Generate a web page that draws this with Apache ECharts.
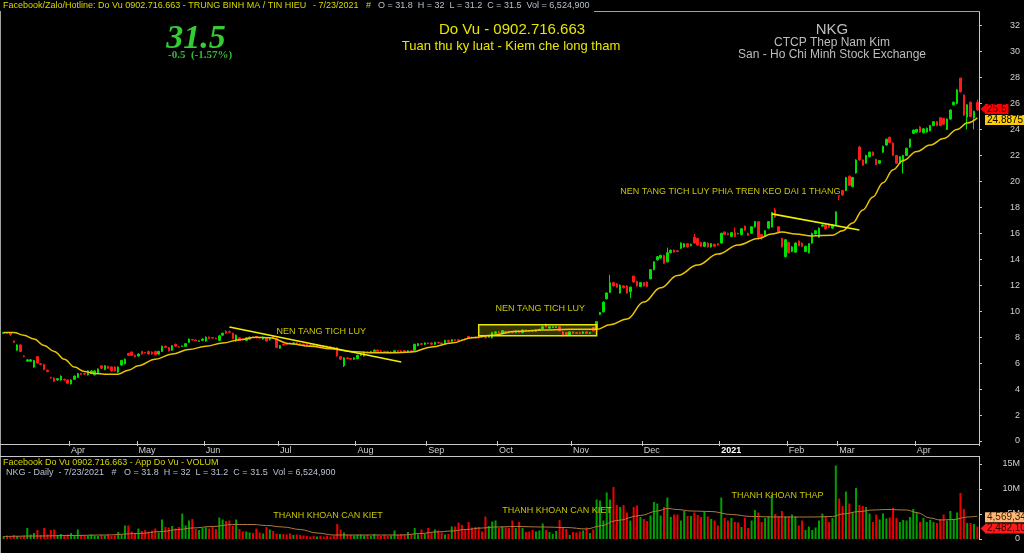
<!DOCTYPE html>
<html><head><meta charset="utf-8">
<script src="https://cdn.jsdelivr.net/npm/echarts@6/dist/echarts.min.js"></script>
<style>html,body{margin:0;padding:0;background:#000;overflow:hidden}#c{width:1024px;height:553px}</style>
</head><body><div id="c"></div>
<script>
// ---------- DATA ----------
const monthLabels = ['Apr','May','Jun','Jul','Aug','Sep','Oct','Nov','Dec','2021','Feb','Mar','Apr'];
const monthStart  = [20,40,60,82,105,126,147,169,190,213,233,248,271];

// [open, close, low, high]
const candles = [
[8.3,8.35,8.25,8.4],[8.35,8.3,8.25,8.4],[8.3,8.2,8.1,8.35],[7.7,7.6,7.55,7.75],[7.0,7.4,6.95,7.45],[7.4,6.9,6.85,7.45],[6.55,6.5,6.45,6.6],[6.15,6.25,6.1,6.3],[6.15,6.25,6.1,6.3],[5.7,6.2,5.65,6.25],
[6.5,6.0,5.95,6.55],[5.95,5.9,5.85,6.0],[5.9,5.5,5.45,5.95],[5.45,5.35,5.3,5.5],[4.9,4.85,4.8,4.95],[4.85,4.6,4.55,4.9],[4.7,4.8,4.65,4.85],[4.7,5.0,4.65,5.05],[4.75,4.7,4.65,4.8],[4.7,4.45,4.4,4.75],
[4.4,4.7,4.35,4.75],[4.75,5.0,4.7,5.05],[4.9,5.2,4.85,5.25],[5.2,5.15,5.1,5.25],[5.2,5.15,5.1,5.25],[5.1,5.4,5.05,5.45],[5.2,5.4,5.15,5.45],[5.1,5.4,5.05,5.45],[5.2,5.55,5.15,5.6],[5.8,5.6,5.55,5.85],
[5.5,5.8,5.45,5.85],[5.75,5.6,5.55,5.8],[5.7,5.4,5.35,5.75],[5.7,5.4,5.35,5.75],[5.3,5.7,5.25,5.75],[5.85,6.2,5.8,6.25],[5.95,6.3,5.9,6.35],[6.75,6.6,6.55,6.8],[6.85,6.6,6.55,6.9],[6.6,6.5,6.45,6.65],
[6.55,6.7,6.5,6.75],[6.9,6.7,6.65,6.95],[6.82,6.78,6.75,6.85],[6.9,6.7,6.65,6.95],[6.85,6.7,6.65,6.9],[6.9,6.65,6.6,6.95],[6.7,6.9,6.65,6.95],[6.9,7.3,6.85,7.35],[7.3,7.2,7.15,7.35],[7.2,6.95,6.9,7.25],
[7.0,7.35,6.95,7.4],[7.45,7.3,7.25,7.5],[7.27,7.23,7.2,7.3],[7.28,7.32,7.25,7.35],[7.3,7.5,7.25,7.55],[7.6,7.85,7.55,7.9],[7.82,7.78,7.75,7.85],[7.77,7.73,7.7,7.8],[7.68,7.72,7.65,7.75],[7.75,7.85,7.7,7.9],
[7.7,8.0,7.65,8.05],[8.0,7.9,7.85,8.05],[7.97,7.93,7.9,8.0],[7.92,7.88,7.85,7.95],[7.75,8.1,7.7,8.15],[8.15,8.3,8.1,8.35],[8.45,8.3,8.25,8.55],[8.42,8.38,8.3,8.5],[8.3,7.9,7.85,8.35],[7.7,8.15,7.65,8.2],
[7.95,7.75,7.7,8.0],[7.87,7.83,7.8,7.9],[7.75,7.95,7.7,8.0],[7.85,8.0,7.8,8.05],[8.02,7.98,7.95,8.05],[8.05,7.95,7.9,8.1],[7.97,7.93,7.9,8.0],[7.85,8.0,7.8,8.05],[7.95,7.7,7.65,8.0],[7.8,7.9,7.75,7.95],
[8.05,7.95,7.9,8.1],[7.9,7.2,7.15,7.95],[7.15,7.35,7.1,7.4],[7.45,7.4,7.35,7.5],[7.5,7.45,7.4,7.55],[7.55,7.5,7.45,7.6],[7.45,7.55,7.4,7.6],[7.55,7.45,7.4,7.6],[7.5,7.45,7.4,7.55],[7.45,7.4,7.35,7.5],
[7.45,7.4,7.35,7.5],[7.4,7.35,7.3,7.45],[7.4,7.3,7.25,7.45],[7.3,7.4,7.25,7.45],[7.35,7.3,7.25,7.4],[7.3,7.25,7.2,7.35],[7.3,7.2,7.15,7.35],[7.25,7.15,7.1,7.3],[7.2,7.1,7.05,7.25],[7.2,6.55,6.5,7.25],
[6.5,6.3,6.25,6.55],[5.8,6.4,5.7,6.45],[6.4,6.35,6.3,6.45],[6.35,6.3,6.25,6.4],[6.3,6.4,6.25,6.45],[6.35,6.6,6.3,6.65],[6.6,6.7,6.55,6.75],[6.55,6.85,6.5,6.9],[6.85,6.8,6.75,6.9],[6.8,6.9,6.75,6.95],
[6.9,7.0,6.85,7.05],[7.0,6.9,6.85,7.05],[6.95,6.9,6.85,7.0],[6.9,6.85,6.8,6.95],[6.9,6.8,6.75,6.95],[6.8,6.85,6.75,6.9],[6.85,6.95,6.8,7.0],[6.95,6.9,6.85,7.0],[6.95,6.9,6.85,7.0],[6.95,6.85,6.8,7.0],
[6.9,6.95,6.85,7.0],[6.95,6.9,6.85,7.0],[7.0,7.45,6.95,7.5],[7.35,7.5,7.3,7.55],[7.5,7.45,7.4,7.55],[7.45,7.55,7.4,7.6],[7.55,7.5,7.45,7.6],[7.55,7.45,7.4,7.6],[7.45,7.6,7.4,7.65],[7.6,7.55,7.5,7.65],
[7.55,7.5,7.45,7.6],[7.5,7.75,7.45,7.8],[7.75,7.65,7.6,7.8],[7.65,7.8,7.6,7.85],[7.8,7.75,7.7,7.85],[7.8,7.75,7.7,7.85],[7.8,7.75,7.7,7.85],[7.85,7.8,7.75,7.9],[8.05,7.95,7.9,8.1],[8.0,7.95,7.9,8.05],
[8.0,7.95,7.9,8.05],[8.0,7.95,7.9,8.05],[8.05,8.0,7.95,8.1],[8.05,7.95,7.9,8.1],[8.0,8.05,7.95,8.1],[7.95,8.35,7.9,8.4],[8.3,8.4,8.25,8.45],[8.4,8.35,8.3,8.45],[8.3,8.5,8.25,8.55],[8.45,8.4,8.35,8.5],
[8.45,8.35,8.3,8.5],[8.4,8.35,8.3,8.45],[8.35,8.45,8.3,8.5],[8.45,8.35,8.3,8.5],[8.35,8.55,8.3,8.6],[8.55,8.45,8.4,8.6],[8.5,8.45,8.4,8.55],[8.5,8.45,8.4,8.55],[8.45,8.55,8.4,8.6],[8.55,8.6,8.5,8.65],
[8.65,8.8,8.6,8.85],[9.0,8.8,8.75,9.05],[8.7,8.8,8.65,8.85],[8.75,8.8,8.7,8.85],[8.75,8.8,8.7,8.85],[8.8,8.5,8.45,8.85],[8.4,8.2,8.05,8.45],[8.35,8.2,8.15,8.4],[8.15,8.4,8.1,8.45],[8.4,8.3,8.25,8.45],
[8.35,8.3,8.25,8.4],[8.35,8.3,8.25,8.4],[8.3,8.4,8.25,8.45],[8.4,8.3,8.25,8.45],[8.3,8.35,8.25,8.4],[8.75,8.5,8.45,8.8],[8.6,9.2,8.55,9.25],[9.75,9.9,9.7,9.95],[9.95,10.7,9.9,10.75],[10.95,11.4,10.9,11.45],
[11.45,12.2,11.4,12.8],[12.2,11.95,11.9,12.25],[12.1,11.85,11.8,12.15],[11.4,12.0,11.35,12.05],[11.95,11.8,11.75,12.0],[11.95,11.4,11.35,12.0],[11.5,11.85,11.0,11.9],[12.7,12.25,12.2,12.75],[12.3,11.95,11.9,12.35],[11.9,12.2,11.85,12.25],
[12.2,11.95,11.9,12.25],[12.25,11.9,11.85,12.3],[12.5,13.2,12.45,13.25],[13.2,13.8,13.15,13.85],[13.95,14.2,13.9,14.25],[14.1,14.3,14.05,14.35],[14.3,13.7,13.65,14.35],[13.8,14.5,13.75,14.9],[14.5,14.7,14.45,14.75],[14.7,14.55,14.5,14.75],
[14.65,14.6,14.55,14.7],[14.85,15.25,14.8,15.3],[14.95,15.2,14.9,15.25],[15.2,14.95,14.9,15.25],[15.05,15.15,15.0,15.2],[15.7,15.25,15.2,15.95],[15.6,15.1,15.05,15.65],[15.3,15.0,14.95,15.35],[15.0,15.3,14.95,15.35],[15.25,14.95,14.9,15.3],
[14.95,15.2,14.9,15.25],[15.15,15.0,14.95,15.2],[15.2,15.1,15.05,15.25],[15.25,16.0,15.2,16.05],[16.1,15.9,15.85,16.15],[16.0,15.9,15.85,16.05],[15.75,16.05,15.7,16.1],[16.05,15.75,15.7,16.45],[16.0,15.95,15.9,16.05],[15.9,16.35,15.85,16.4],
[16.55,16.25,16.2,16.6],[16.0,15.85,15.8,16.05],[16.0,16.5,15.95,16.55],[16.5,16.9,16.45,16.95],[16.9,15.7,15.5,16.95],[15.9,15.7,15.5,15.95],[15.8,16.2,15.75,16.25],[16.4,16.9,16.35,16.95],[16.5,17.6,16.45,17.65],[17.8,17.25,17.2,17.95],
[16.5,16.1,16.05,16.55],[15.6,14.95,14.9,15.65],[14.2,15.5,14.15,15.55],[15.3,14.5,14.45,15.35],[14.6,14.95,14.55,15.0],[14.55,15.25,14.5,15.3],[15.4,15.05,15.0,15.45],[15.25,15.0,14.95,15.3],[14.6,15.0,14.55,15.05],[14.5,15.2,14.45,15.25],
[15.25,16.0,15.2,16.05],[15.95,16.2,15.9,16.25],[15.7,16.4,15.65,16.45],[16.55,16.65,16.5,16.7],[16.65,16.35,16.3,16.7],[16.7,16.45,16.4,16.75],[16.4,16.65,16.35,16.7],[16.65,17.65,16.6,17.7],[18.9,18.85,18.55,18.9],[19.3,18.95,18.9,19.35],
[19.3,20.3,19.25,20.35],[20.4,19.7,19.65,20.45],[19.6,20.3,19.55,20.35],[20.65,21.65,20.6,21.7],[22.65,21.65,21.6,22.75],[21.65,21.25,21.2,21.7],[21.4,22.0,21.35,22.05],[21.9,22.25,21.85,22.3],[22.25,22.0,21.95,22.3],[21.7,21.3,21.25,21.75],
[21.4,21.6,21.35,21.65],[22.25,22.7,22.2,22.75],[22.8,23.25,22.75,23.3],[23.4,23.0,22.95,23.45],[22.95,22.0,21.95,23.0],[22.0,21.4,21.35,22.05],[21.4,21.9,21.35,21.95],[21.5,22.0,20.6,22.05],[22.0,22.55,21.95,22.6],[22.65,23.25,22.6,23.3],
[23.7,23.95,23.65,24.0],[23.8,24.0,23.75,24.05],[24.2,23.8,23.75,24.25],[23.75,24.05,23.7,24.1],[23.8,24.1,23.75,24.15],[23.9,24.3,23.85,24.35],[24.3,24.6,24.25,24.65],[24.6,24.3,24.25,24.65],[24.9,24.3,24.25,24.95],[24.85,24.4,24.35,24.9],
[24.0,24.8,23.95,24.85],[24.8,25.5,24.75,25.55],[25.9,26.1,25.85,26.15],[26.0,27.05,25.95,27.1],[27.95,26.9,26.85,28.0],[26.65,25.1,25.05,26.7],[24.95,25.9,24.0,25.95],[26.1,25.0,24.95,26.15],[24.9,25.4,24.0,25.45],[26.1,25.5,25.45,26.3]
];

// volume in millions of shares
const volumes = [
0.6,0.7,0.5,0.8,0.6,0.5,0.7,2.2,0.9,1.2, 1.8,0.8,2.2,0.9,1.8,1.9,0.8,1.0,0.7,0.9,
1.2,0.8,1.9,0.8,0.7,0.6,0.9,0.7,0.6,0.8, 0.7,0.9,0.6,0.7,1.4,0.9,2.7,2.7,1.5,1.2,
2.1,1.6,1.8,1.5,1.7,2.1,1.3,3.9,2.4,2.3, 2.6,2.1,2.4,5.1,2.7,3.7,4.0,2.0,1.8,2.2,
2.3,2.1,2.5,2.0,4.3,3.9,3.6,3.7,2.6,3.9, 2.0,1.5,1.5,1.3,1.2,2.1,1.3,1.1,2.4,1.9,
1.6,1.1,1.0,1.0,0.9,1.1,0.8,0.9,0.8,0.7, 0.6,0.5,0.6,0.5,0.6,0.5,0.6,0.5,0.7,3.0,
1.9,1.3,0.9,0.8,0.7,0.8,0.9,0.7,0.8,0.6, 1.0,0.7,0.6,0.8,0.6,0.7,1.7,0.8,1.0,0.8,
1.4,0.9,2.2,0.9,1.9,1.0,2.2,1.4,1.9,1.7, 1.3,0.9,1.0,2.5,2.5,3.3,2.8,1.8,3.4,2.3,
2.4,2.4,1.5,4.5,2.6,3.5,3.7,2.2,2.5,2.3, 2.2,3.7,2.2,3.4,2.2,1.4,1.5,1.8,1.5,1.7,
3.1,1.8,1.4,1.0,1.6,3.8,2.2,2.0,0.8,1.4, 1.3,1.5,1.7,2.3,1.2,1.9,7.9,7.7,3.7,9.3,
7.9,10.4,6.8,6.4,6.8,5.3,3.7,6.4,6.7,4.4, 4.0,3.6,4.7,7.4,7.1,4.7,6.4,8.3,4.4,4.9,
4.9,3.7,5.6,4.6,4.6,5.3,4.8,4.4,5.5,4.5, 4.0,3.7,2.7,8.3,4.2,3.7,4.2,3.4,3.3,2.4,
4.2,2.2,3.7,5.8,5.3,3.4,4.2,4.5,8.8,5.0, 4.6,5.6,4.5,4.5,4.9,4.5,2.7,3.7,1.8,2.5,
1.8,2.3,3.7,5.1,4.5,3.4,4.2,14.7,8.1,6.6, 9.5,7.1,5.3,10.2,6.8,6.6,6.4,5.1,3.4,4.9,
3.9,5.1,4.1,4.3,6.2,4.2,3.4,3.8,3.7,4.4, 6.0,5.3,3.4,4.2,3.4,3.8,3.4,3.2,4.0,4.9,
3.7,5.6,4.0,5.3,9.2,6.0,3.2,3.2,3.0,2.4821
];

// price moving average (read at these bar indexes)
const maIdx = [0,3,6,9,12,15,18,21,24,27,30,34,37,40,45,50,55,60,65,70,75,79,85,91,97,103,109,115,121,127,133,139,145,152,160,168,176,180,185,190,195,200,206,212,218,224,228,231,235,240,246,249,252,255,258,261,264,267,271,275,279,283,286,289];
const maVal = [8.35,8.35,8.15,7.85,7.35,6.9,6.3,5.7,5.35,5.2,5.15,5.15,5.45,5.8,6.3,6.7,7.05,7.3,7.55,7.8,8.0,7.95,7.5,7.3,7.1,6.9,6.8,6.8,6.85,7.25,7.55,7.95,8.15,8.45,8.55,8.6,8.6,8.95,9.4,10.7,11.8,12.75,13.55,14.4,15.1,15.6,15.95,16.1,15.95,15.8,15.85,16.2,16.8,17.8,18.8,19.9,20.9,21.6,22.3,22.8,23.3,24.0,24.5,24.8875];

// volume moving average (millions)
const vmaIdx = [0,10,20,30,40,47,52,56,62,68,74,78,83,88,93,98,104,110,118,124,128,133,137,142,146,152,160,167,173,177,182,189,194,197,200,204,210,216,222,230,240,246,249,254,258,262,268,271,275,278,282,286,289];
const vmaVal = [0.5,0.6,0.7,0.8,1.1,1.5,1.9,2.2,2.5,2.9,2.9,2.7,2.4,1.9,1.2,0.8,0.8,0.8,0.8,1.1,1.4,1.6,1.9,2.2,2.4,2.5,2.4,2.3,2.0,2.6,3.7,4.7,5.6,6.1,5.9,5.6,5.5,4.9,4.5,4.4,4.4,4.5,5.0,5.5,5.8,5.9,5.8,5.3,4.2,3.8,3.9,4.4,4.569341];

// drawn annotations (bar index, value)
const trendLines = [[67.2, 8.78, 117.9, 6.09], [228.4, 17.5, 253.6, 16.25]];
const baseBox = [140.8, 8.95, 176.1, 8.1];
const priceNotes = [
  {text:'NEN TANG TICH LUY', x:80.8, y:8.44},
  {text:'NEN TANG TICH LUY', x:145.8, y:10.2},
  {text:'NEN TANG TICH LUY PHIA TREN KEO DAI 1 THANG', x:182.6, y:19.22}
];
const volNotes = [
  {text:'THANH KHOAN CAN KIET', x:79.9, y:4.6},
  {text:'THANH KHOAN CAN KIET', x:147.9, y:5.6},
  {text:'THANH KHOAN THAP', x:215.6, y:8.6}
];

// ---------- CHART ----------
const FONT = '"Liberation Sans", Arial, sans-serif';
const SERIF = '"Liberation Serif", "Times New Roman", serif';
const N = candles.length;
const cats = candles.map((_, i) => String(i));
const ma = new Array(N).fill(null); maIdx.forEach((k, j) => ma[k] = maVal[j]);
const vma = new Array(N).fill(null); vmaIdx.forEach((k, j) => vma[k] = vmaVal[j]);
const volData = volumes.map((v, i) => ({value: v, itemStyle: {color: candles[i][1] >= candles[i][0] ? '#00a000' : '#ee0000'}}));
const lastClose = candles[N - 1][1], lastMa = maVal[maVal.length - 1];
const lastVol = volumes[N - 1], lastVma = vmaVal[vmaVal.length - 1];
const fmtVol = v => Math.round(v * 1e6).toLocaleString('en-US');
const isMonth = i => monthStart.indexOf(i) >= 0;
const AX = '#c8c8c8';
const tagLabel = (txt, bg, fg, dy) => ({show: true, position: 'end', distance: 6, formatter: txt, backgroundColor: bg, color: fg,
  fontSize: 10, fontFamily: FONT, padding: [1, 2, 0, 2], lineHeight: 9, offset: [0, dy]});
const hidden = {color: 'rgba(0,0,0,0)', width: 1};

const option = {
  backgroundColor: '#000',
  animation: false,
  grid: [{left: 2, right: 45, top: 12, bottom: 112}, {left: 2, right: 45, top: 457, bottom: 14}],
  xAxis: [
    {type: 'category', gridIndex: 0, data: cats, boundaryGap: true, offset: 4,
     axisLine: {show: false},
     axisTick: {show: true, length: 5, interval: isMonth, lineStyle: {color: AX}},
     axisLabel: {show: true, interval: isMonth, align: 'left', margin: 1, fontSize: 9, fontFamily: FONT, color: '#d0d0d0',
       formatter: (v, i) => { const t = monthLabels[monthStart.indexOf(i)]; return t === '2021' ? '{b|2021}' : t; },
       rich: {b: {fontWeight: 'bold', color: '#ffffff', fontSize: 9, fontFamily: FONT}}},
     splitLine: {show: false}},
    {type: 'category', gridIndex: 1, data: cats, boundaryGap: true, show: false}
  ],
  yAxis: [
    {type: 'value', gridIndex: 0, position: 'right', min: 0, max: 33.05, interval: 2,
     axisLine: {show: true, lineStyle: {color: AX}}, axisTick: {show: true, length: 3, lineStyle: {color: AX}},
     axisLabel: {align: 'right', margin: 41, fontSize: 9, fontFamily: FONT, color: '#d0d0d0', showMaxLabel: false},
     splitLine: {show: false}},
    {type: 'value', gridIndex: 1, position: 'right', min: 0, max: 16.4, interval: 5,
     axisLine: {show: true, lineStyle: {color: AX}}, axisTick: {show: true, length: 3, lineStyle: {color: AX}},
     axisLabel: {align: 'right', margin: 41, fontSize: 9, fontFamily: FONT, color: '#d0d0d0', showMaxLabel: false,
       formatter: v => v === 0 ? '0' : v + 'M'},
     splitLine: {show: false}}
  ],
  series: [
    {type: 'candlestick', xAxisIndex: 0, yAxisIndex: 0, data: candles, barWidth: 2,
     itemStyle: {color: '#00e000', color0: '#ff1a1a', borderColor: '#00e000', borderColor0: '#ff1a1a', borderWidth: 1},
     markLine: {silent: true, symbol: ['none', 'none'], lineStyle: hidden, z: 20,
       data: [{yAxis: lastClose, label: tagLabel(String(lastClose), '#ff0000', '#300000', -1)}]}},
    {type: 'line', xAxisIndex: 0, yAxisIndex: 0, data: ma, connectNulls: true, smooth: 0.4, smoothMonotone: 'x',
     symbol: 'none', lineStyle: {color: '#e8c400', width: 1.5}, z: 3,
     markLine: {silent: true, symbol: ['none', 'none'], lineStyle: hidden, z: 21,
       data: [{yAxis: lastMa, label: tagLabel(String(lastMa), '#ffcc00', '#000', 2)}]}},
    {type: 'bar', xAxisIndex: 1, yAxisIndex: 1, data: volData, barWidth: 2,
     markLine: {silent: true, symbol: ['none', 'none'], lineStyle: hidden, z: 20,
       data: [{yAxis: lastVol, label: tagLabel(fmtVol(lastVol), '#ff1a1a', '#300000', 2)}]}},
    {type: 'line', xAxisIndex: 1, yAxisIndex: 1, data: vma, connectNulls: true, smooth: 0.4, smoothMonotone: 'x',
     symbol: 'none', lineStyle: {color: '#b07a40', width: 1}, z: 3,
     markLine: {silent: true, symbol: ['none', 'none'], lineStyle: hidden, z: 21,
       data: [{yAxis: lastVma, label: tagLabel(fmtVol(lastVma), '#ffb878', '#3a1a00', 1)}]}}
  ]
};

const chart = echarts.init(document.getElementById('c'));
chart.setOption(option);

// ---------- overlays positioned through the chart's own scales ----------
const P = (g, x, y) => chart.convertToPixel({xAxisIndex: g, yAxisIndex: g}, [x, y]);
const Y1 = '#d8d800', G1 = '#b8c0d0', NOTE = '#c8c800';
function T(x, y, text, fill, size, extra) {
  return {type: 'text', x: x, y: y, z: 50, silent: true,
    style: Object.assign({text: text, fill: fill, fontSize: size, fontFamily: FONT, align: 'left', verticalAlign: 'middle'}, extra || {})};
}
function L(x1, y1, x2, y2, color, w, z) {
  return {type: 'line', z: z || 40, silent: true, shape: {x1: x1, y1: y1, x2: x2, y2: y2}, style: {stroke: color, lineWidth: w}};
}
const g = [];
const axisX = P(0, N - 1, 0)[0] + 1.7;
// frame lines
g.push(L(594, 11.5, axisX + 1, 11.5, '#a0a0a0', 1));
g.push(L(0.5, 11, 0.5, 553, '#a0a0a0', 1));
g.push(L(0, 444.5, axisX + 1, 444.5, '#c8c8c8', 1));
g.push(L(0, 456.5, axisX + 1, 456.5, '#c8c8c8', 1));
// accumulation box
const b1 = P(0, baseBox[0], baseBox[1]), b2 = P(0, baseBox[2], baseBox[3]);
g.push({type: 'rect', z: 4, silent: true, shape: {x: b1[0], y: b1[1], width: b2[0] - b1[0], height: b2[1] - b1[1]},
  style: {fill: 'rgba(230,230,0,0.22)', stroke: '#e6e600', lineWidth: 1.5}});
// trend lines
trendLines.forEach(t => { const a = P(0, t[0], t[1]), c = P(0, t[2], t[3]); g.push(L(a[0], a[1], c[0], c[1], '#f0f000', 1.6, 45)); });
// notes
priceNotes.forEach(n => { const p = P(0, n.x, n.y); g.push(T(p[0], p[1], n.text, NOTE, 9)); });
volNotes.forEach(n => { const p = P(1, n.x, n.y); g.push(T(p[0], p[1], n.text, NOTE, 9)); });
// tag arrows
[[0, lastClose, '#ff0000', -1], [1, lastVol, '#ff1a1a', 2]].forEach(a => {
  const y = P(a[0], N - 1, a[1])[1] + a[3];
  g.push({type: 'polygon', z: 60, silent: true, shape: {points: [[axisX + 1.5, y], [axisX + 7, y - 5], [axisX + 7, y + 5]]}, style: {fill: a[2]}});
});
// header texts
g.push(T(3, 6, 'Facebook/Zalo/Hotline: Do Vu 0902.716.663 - TRUNG BINH MA / TIN HIEU', Y1, 9));
g.push(T(313, 6, '- 7/23/2021', Y1, 9));
g.push(T(366, 6, '#', Y1, 9));
g.push(T(378, 6, 'O = 31.8  H = 32  L = 31.2  C = 31.5  Vol = 6,524,900', G1, 9));
g.push(T(196, 39, '31.5', '#33cc33', 34, {align: 'center', fontFamily: SERIF, fontStyle: 'italic', fontWeight: 'bold'}));
g.push(T(168, 55.5, '-0.5  (-1.57%)', '#33bb33', 11, {fontFamily: SERIF, fontWeight: 'bold'}));
g.push(T(512, 29.5, 'Do Vu - 0902.716.663', '#e6e600', 15, {align: 'center'}));
g.push(T(511, 46, 'Tuan thu ky luat - Kiem che long tham', '#e6e600', 13, {align: 'center'}));
g.push(T(832, 29.5, 'NKG', '#bdbdbd', 15, {align: 'center'}));
g.push(T(832, 43, 'CTCP Thep Nam Kim', '#bdbdbd', 12, {align: 'center'}));
g.push(T(832, 55, 'San - Ho Chi Minh Stock Exchange', '#bdbdbd', 12, {align: 'center'}));
g.push(T(3, 463, 'Facebook Do Vu 0902.716.663 - App Do Vu - VOLUM', Y1, 9));
g.push(T(6, 473, 'NKG - Daily  - 7/23/2021   #   O = 31.8  H = 32  L = 31.2  C = 31.5  Vol = 6,524,900', G1, 9));
chart.setOption({graphic: g});
</script>
</body></html>
